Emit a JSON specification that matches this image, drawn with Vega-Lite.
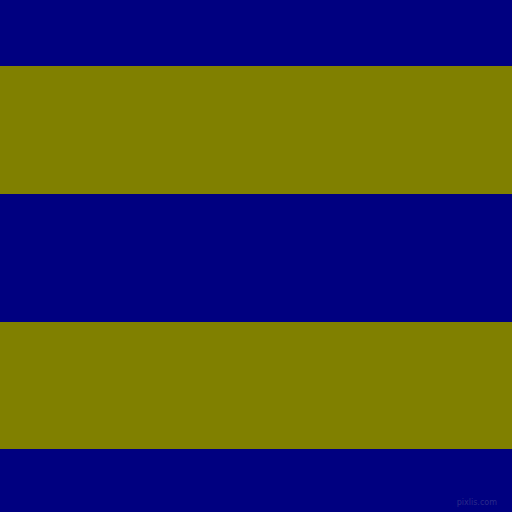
{
  "$schema": "https://vega.github.io/schema/vega-lite/v6.json",
  "width": 512,
  "height": 512,
  "autosize": {"type": "fit", "contains": "padding"},
  "padding": 0,
  "background": "#000080",
  "config": {"view": {"stroke": null}},
  "datasets": {
    "stripes": [
      {"y0": 0, "y1": 66, "band": "navy"},
      {"y0": 66, "y1": 194, "band": "olive"},
      {"y0": 194, "y1": 322, "band": "navy"},
      {"y0": 322, "y1": 449, "band": "olive"},
      {"y0": 449, "y1": 512, "band": "navy"}
    ],
    "credit": [
      {"x": 497, "y": 503, "label": "pixlis.com"}
    ]
  },
  "layer": [
    {
      "data": {"name": "stripes"},
      "mark": {"type": "rect", "x": 0, "x2": 512},
      "encoding": {
        "y": {"field": "y0", "type": "quantitative", "scale": {"domain": [0, 512], "reverse": true, "nice": false, "zero": false}, "axis": null},
        "y2": {"field": "y1"},
        "color": {"field": "band", "type": "nominal", "scale": {"domain": ["navy", "olive"], "range": ["#000080", "#808000"]}, "legend": null}
      }
    },
    {
      "data": {"name": "credit"},
      "mark": {"type": "text", "align": "right", "baseline": "middle", "fontSize": 8, "font": "DejaVu Sans", "color": "#2a2a8a"},
      "encoding": {
        "x": {"field": "x", "type": "quantitative", "scale": {"domain": [0, 512], "nice": false, "zero": false}, "axis": null},
        "y": {"field": "y", "type": "quantitative", "axis": null},
        "text": {"field": "label"}
      }
    }
  ]
}
